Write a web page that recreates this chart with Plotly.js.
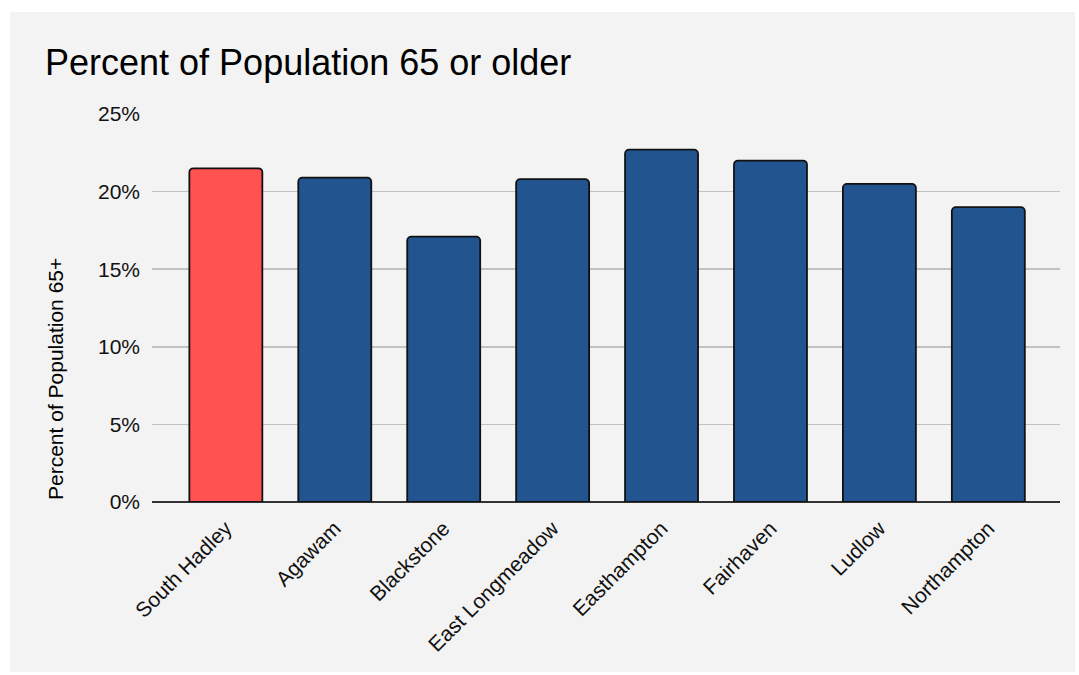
<!DOCTYPE html>
<html>
<head>
<meta charset="utf-8">
<script src="https://cdn.plot.ly/plotly-3.0.1.min.js"></script>
<style>
  html, body { margin: 0; padding: 0; background: #ffffff; }
  #chart { width: 1079px; height: 675px; }
</style>
</head>
<body>
<div id="chart"></div>
<script>
// Share of residents aged 65 and over, by town
const towns = ['South Hadley', 'Agawam', 'Blackstone', 'East Longmeadow', 'Easthampton', 'Fairhaven', 'Ludlow', 'Northampton'];
const pct65 = [21.5, 20.9, 17.1, 20.8, 22.7, 22.0, 20.5, 19.0];
const highlightTown = 'South Hadley';
const yTicks = [0, 5, 10, 15, 20, 25];
const yTickText = ['0%', '5%', '10%', '15%', '20%', '25%'];

const RED = '#ff5251';
const BLUE = '#22548f';
const PANEL = '#f3f3f3';
const FONT = 'Liberation Sans, Arial, sans-serif';

const barColors = towns.map(t => (t === highlightTown ? RED : BLUE));

const trace = {
  type: 'bar',
  x: towns,
  y: pct65,
  width: 0.67,
  marker: {
    color: barColors,
    line: { color: '#111111', width: 1.8 },
    cornerradius: 4
  },
  hoverinfo: 'skip'
};

const layout = {
  width: 1079,
  height: 675,
  margin: { l: 152, r: 19, t: 114, b: 173 },
  paper_bgcolor: '#ffffff',
  plot_bgcolor: PANEL,
  showlegend: false,
  font: { family: FONT, color: '#111111', size: 21 },
  title: {
    text: 'Percent of Population 65 or older',
    font: { family: FONT, size: 36, color: '#000000' },
    xref: 'container', yref: 'container',
    x: 45 / 1079, xanchor: 'left',
    y: 1 - 62 / 675, yanchor: 'middle'
  },
  xaxis: {
    type: 'category',
    range: [-0.678, 7.658],
    tickangle: -45,
    tickfont: { family: FONT, size: 21, color: '#111111' },
    ticklabelstandoff: 9,
    showgrid: false,
    zeroline: false,
    showline: false,
    ticks: '',
    fixedrange: true
  },
  yaxis: {
    range: [0, 25],
    tickvals: yTicks,
    ticktext: yTickText,
    tickfont: { family: FONT, size: 21, color: '#111111' },
    ticklabelstandoff: 11,
    showgrid: true,
    gridcolor: '#c2c2c2',
    gridwidth: 1.5,
    zeroline: true,
    zerolinecolor: '#333333',
    zerolinewidth: 1.8,
    showline: false,
    ticks: '',
    fixedrange: true
  },
  shapes: [{
    type: 'rect', layer: 'below',
    xref: 'paper', yref: 'paper',
    x0: (10 - 152) / 908, x1: (1075 - 152) / 908,
    y0: (502 - 672) / 388, y1: (502 - 12) / 388,
    fillcolor: PANEL, line: { width: 0 }
  }],
  annotations: [{
    text: 'Percent of Population 65+',
    xref: 'paper', yref: 'paper',
    x: (55 - 152) / 908, y: (502 - 379) / 388,
    xanchor: 'center', yanchor: 'middle',
    textangle: -90, showarrow: false,
    font: { family: FONT, size: 21, color: '#000000' }
  }]
};

Plotly.newPlot('chart', [trace], layout, { displayModeBar: false, staticPlot: true });
</script>
</body>
</html>
